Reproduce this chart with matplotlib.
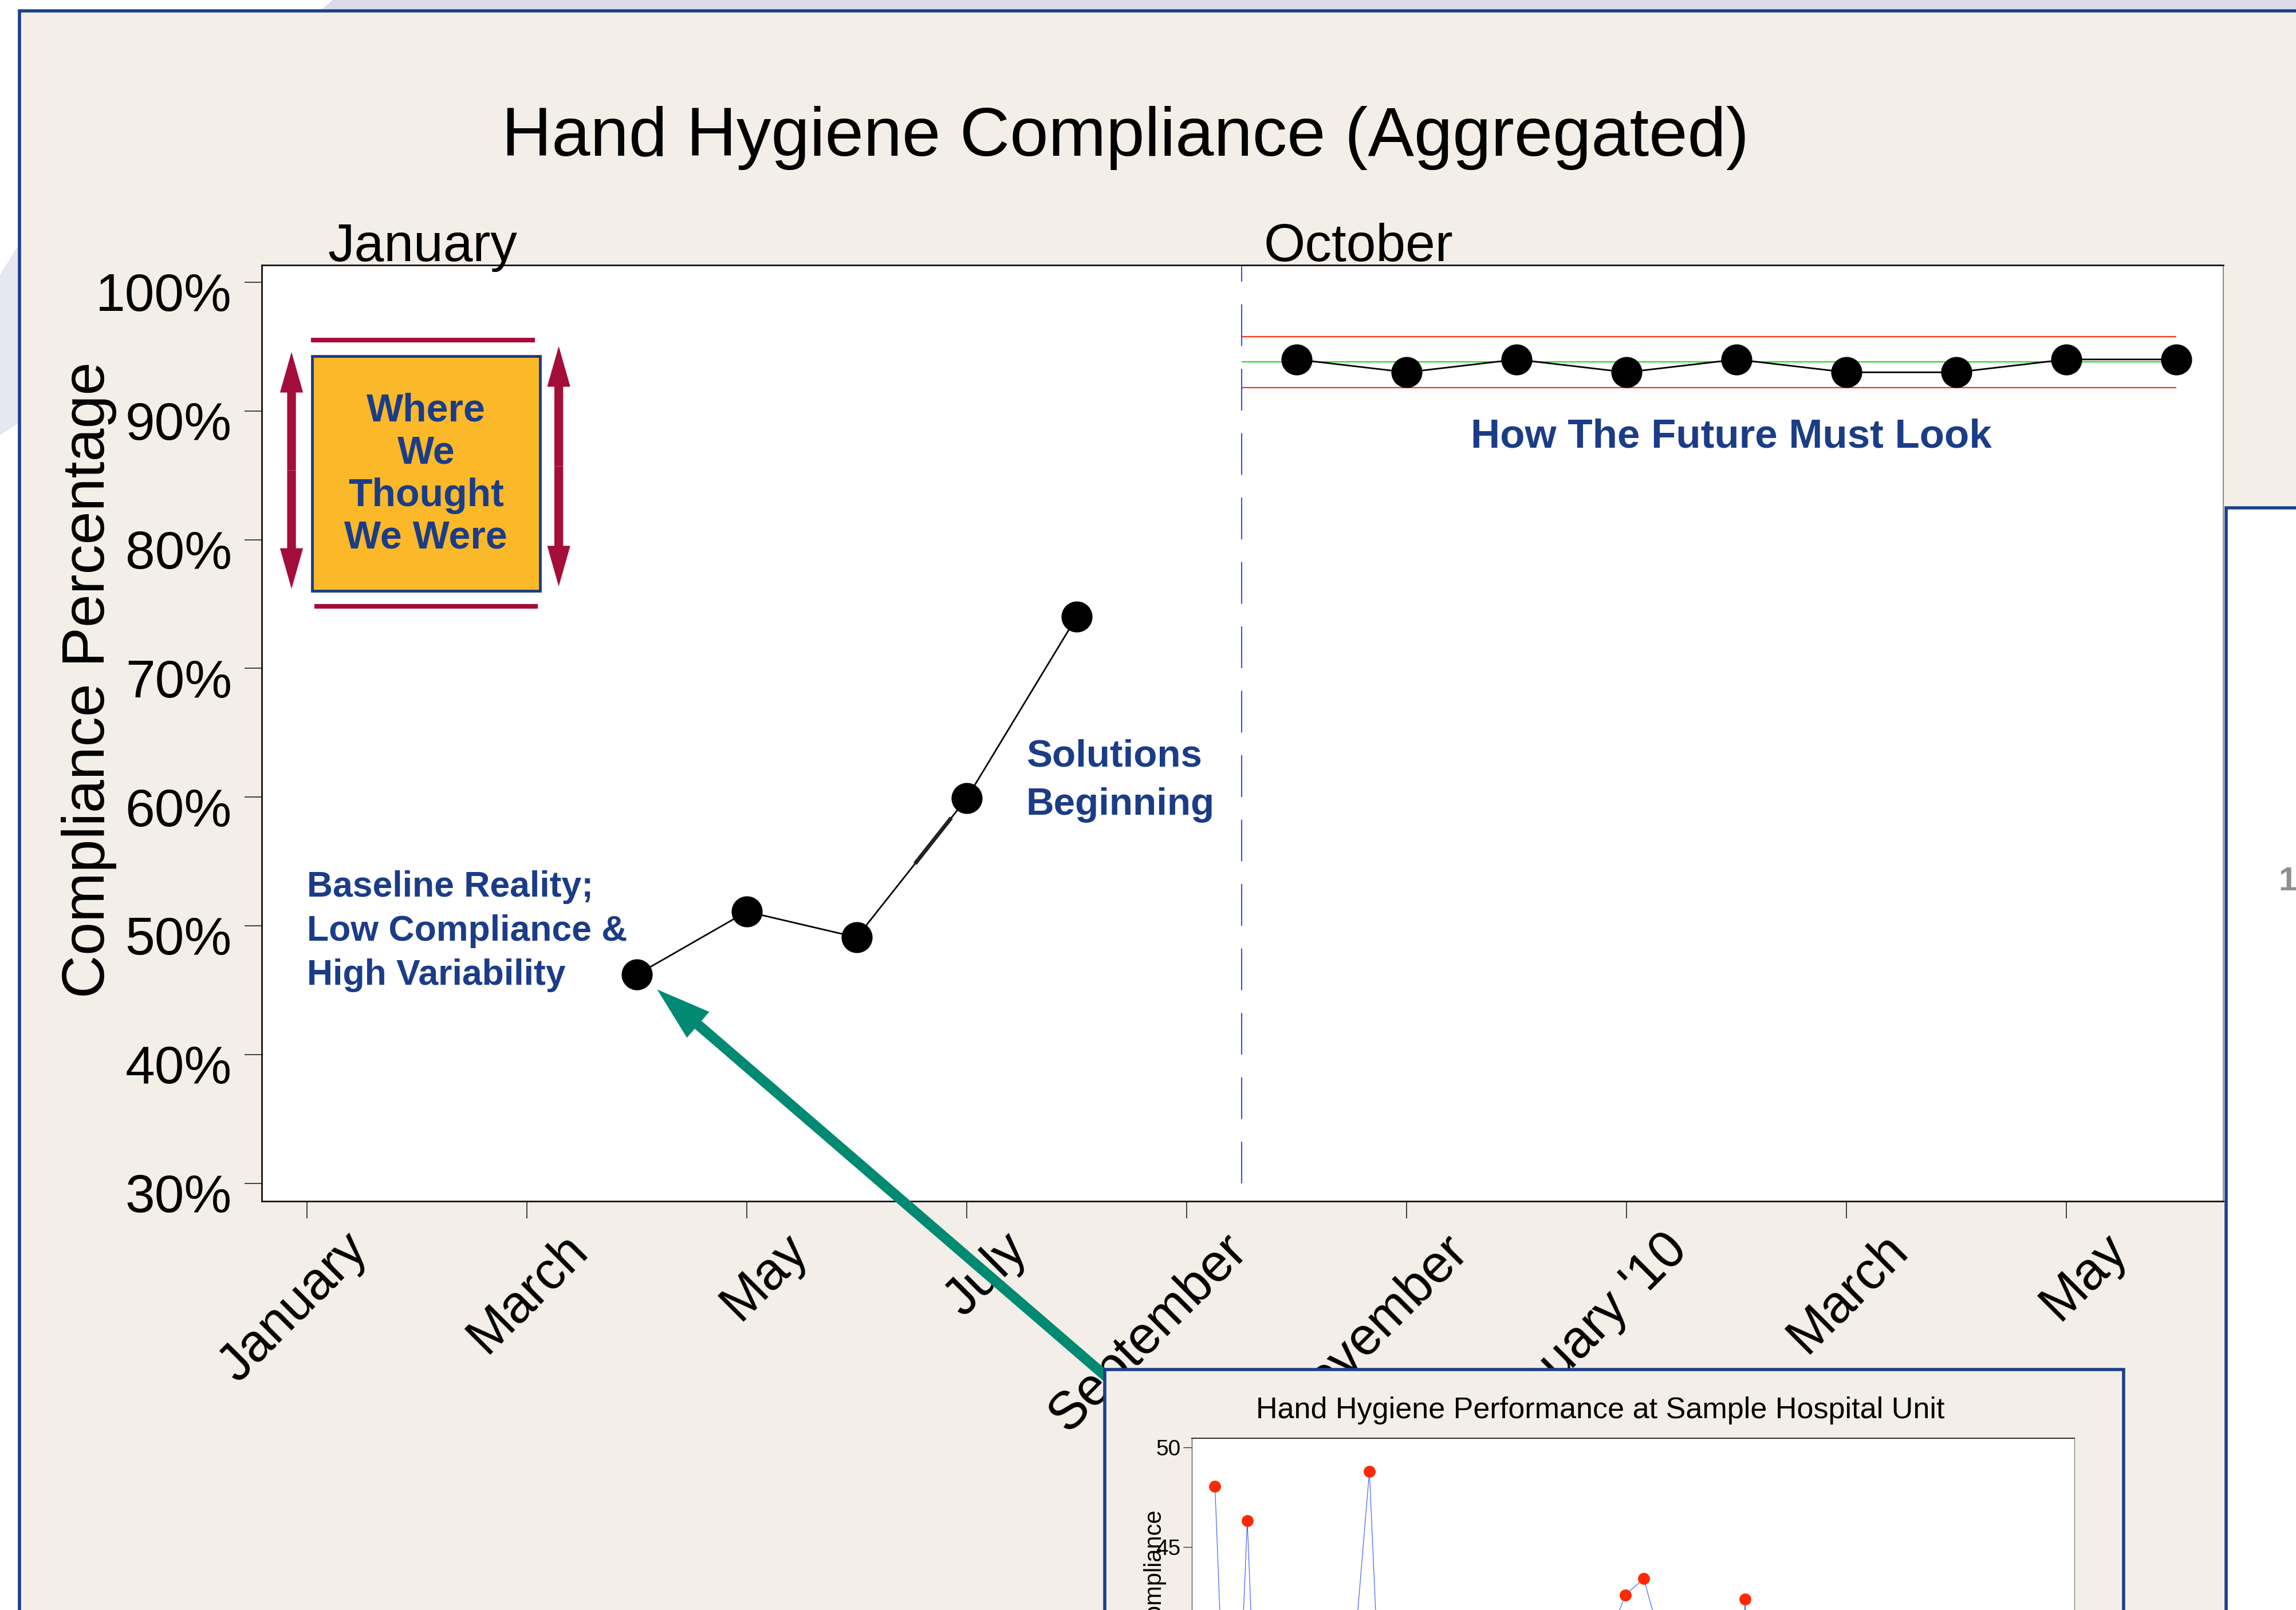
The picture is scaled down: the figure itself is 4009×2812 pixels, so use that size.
import matplotlib
matplotlib.use('Agg')
from matplotlib import pyplot as plt
from matplotlib.patches import Rectangle, Polygon, FancyArrowPatch
from matplotlib.transforms import ScaledTranslation
import numpy as np

# ---- values ----
tick_months = [0, 2, 4, 6, 8, 10, 12, 14, 16]
tick_labels = ['January', 'March', 'May', 'July', 'September',
               'November', "January '10", 'March', 'May']
pct_ticks = [30, 40, 50, 60, 70, 80, 90, 100]

baseline_months = [3, 4, 5, 6, 7]            # April - August
baseline_pct = [46.2, 51.1, 49.1, 59.9, 74.0]

future_months = [9, 10, 11, 12, 13, 14, 15, 16, 17]   # October - June '10
future_pct = [94.0, 93.0, 94.0, 93.0, 94.0, 93.0, 93.0, 94.0, 94.0]

ucl = 95.75
center_line = 93.8
lcl = 91.8
phase_split = 8.5
limits_end = 17.0

# inset chart, mostly cut off by the bottom of the slide
inset_x = [2.6, 4.45, 6.26, 8.0, 16.0, 20.1, 22.3, 35.8, 49.1, 51.2, 61.45, 62.7, 62.75]
inset_y = [48.03, 27, 46.33, 27, 27, 48.79, 27, 27, 42.61, 43.43, 27, 42.41, 27]
inset_ticks = [45, 50]

BEIGE = '#F3EFE8'
FRAME_BLUE = '#1B3F8B'
NAVY = '#1B3C87'
CRIMSON = '#A50D3A'
GOLD = '#FBB829'
TEAL = '#008A72'
LAVENDER = '#DADCEA'

W, H, DPI = 4009, 2812, 100

plt.rcParams['font.family'] = ['Liberation Sans', 'DejaVu Sans']


def fx(px):
    return px / W


def fy(py):
    return 1 - py / H


fig = plt.figure(figsize=(W / DPI, H / DPI), dpi=DPI, facecolor='white')


def fig_rect(x0, y0, x1, y1, **kw):
    r = Rectangle((fx(x0), fy(y1)), fx(x1) - fx(x0), fy(y0) - fy(y1),
                  transform=fig.transFigure, **kw)
    fig.add_artist(r)
    return r


# slide background
fig.add_artist(Polygon([(fx(561), fy(17)), (fx(581), fy(0)), (fx(W), fy(0)), (fx(W), fy(17))],
                       closed=True, transform=fig.transFigure, facecolor=LAVENDER,
                       edgecolor='none', zorder=-6))
fig.add_artist(Polygon([(fx(0), fy(480)), (fx(31), fy(430)), (fx(31), fy(740)), (fx(0), fy(760))],
                       closed=True, transform=fig.transFigure, facecolor='#E6E7F1',
                       edgecolor='none', zorder=-6))
fig_rect(33.5, 19, W + 60, H + 60, facecolor=BEIGE, edgecolor=FRAME_BLUE, linewidth=4, zorder=-5)

# ---- main chart ----
ax = fig.add_axes([fx(457), fy(2098), fx(3882) - fx(457), fy(463) - fy(2098)])
ax.set_facecolor('white')
ax.set_xlim(-0.411, 17.427)
ax.set_ylim(28.6, 101.33)

ax.hlines([ucl, lcl], phase_split, limits_end, colors='#FF3314', linewidth=1.6, zorder=2)
ax.hlines(center_line, phase_split, limits_end, colors='#22DD22', linewidth=1.6, zorder=2)
ax.vlines(phase_split, 30, 101.33, colors='#3050F0', linewidth=1.5,
          linestyles=[(0, (35, 19))], zorder=2)

for months, pct in [(baseline_months, baseline_pct), (future_months, future_pct)]:
    ax.plot(months, pct, color='black', linewidth=2, marker='o', markersize=38,
            markerfacecolor='black', markeredgecolor='black', zorder=3)

# darker stroke on part of the June-July segment
seg = np.array([0.53, 0.86])
ax.plot(np.interp(seg, [0, 1], baseline_months[2:4]), np.interp(seg, [0, 1], baseline_pct[2:4]),
        color='#222222', linewidth=5, solid_capstyle='butt', zorder=3)

ax.set_xticks(tick_months)
ax.set_xticklabels(tick_labels, fontsize=66, rotation=45, ha='right', va='top',
                   rotation_mode='anchor')
ax.set_yticks(pct_ticks)
ax.set_yticklabels([f'{v}%' for v in pct_ticks], fontsize=67)
ax.tick_params(axis='both', direction='out', length=21.5, width=1.2, color='#222222')
ax.tick_params(axis='y', pad=16)
ax.tick_params(axis='x', pad=8)
shift = ScaledTranslation(0.62, 0, fig.dpi_scale_trans)
for lab in ax.get_xticklabels():
    lab.set_transform(lab.get_transform() + shift)
drop = ScaledTranslation(0, -0.17, fig.dpi_scale_trans)
for lab in ax.get_yticklabels():
    lab.set_transform(lab.get_transform() + drop)

for side in ['top', 'bottom', 'left']:
    ax.spines[side].set_linewidth(2)
    ax.spines[side].set_color('#111111')
ax.spines['right'].set_linewidth(1.2)
ax.spines['right'].set_color('#777777')

fig.text(fx(155), fy(1187), 'Compliance Percentage', rotation=90, ha='center', va='center',
         fontsize=75)
fig.text(fx(1965), fy(272), 'Hand Hygiene Compliance (Aggregated)', ha='center',
         va='baseline', fontsize=87)
ax.text(0.193, 101.64, 'January', fontsize=67, ha='left', va='baseline', clip_on=False)
ax.text(8.703, 101.64, 'October', fontsize=67, ha='left', va='baseline', clip_on=False)

# "where we thought we were" box
ax.add_patch(Rectangle((0.047, 76.0), 2.073, 18.27, facecolor=GOLD, edgecolor=NAVY,
                       linewidth=3.5, zorder=4))
for i, line in enumerate(['Where', 'We', 'Thought', 'We Were']):
    ax.text(1.083, 89.2 - i * 3.29, line, ha='center', va='baseline', fontsize=49,
            fontweight='bold', color=NAVY, zorder=5)
ax.plot([0.036, 2.073], [95.52, 95.52], color=CRIMSON, linewidth=5.8,
        solid_capstyle='butt', zorder=4)
ax.plot([0.068, 2.10], [74.8, 74.8], color=CRIMSON, linewidth=5.8,
        solid_capstyle='butt', zorder=4)


def double_arrow(x, y0, y1):
    mid = (y0 + y1) / 2
    for end in (y0, y1):
        ax.add_patch(FancyArrowPatch((x, mid), (x, end),
                                     arrowstyle='simple,head_length=51,head_width=29,tail_width=11',
                                     mutation_scale=1, shrinkA=0, shrinkB=0,
                                     facecolor=CRIMSON, edgecolor='none', zorder=4))


double_arrow(-0.14, 76.18, 94.58)
double_arrow(2.29, 76.37, 95.03)

for i, line in enumerate(['Baseline Reality;', 'Low Compliance &', 'High Variability']):
    ax.text(0.003, 52.25 - i * 3.42, line, ha='left', va='baseline', fontsize=45,
            fontweight='bold', color=NAVY, zorder=5)
for i, line in enumerate(['Solutions', 'Beginning']):
    ax.text(6.54, 62.39 - i * 3.78, line, ha='left', va='baseline', fontsize=48.5,
            fontweight='bold', color=NAVY, zorder=5)
ax.text(12.95, 87.15, 'How The Future Must Look', ha='center', va='baseline', fontsize=51,
        fontweight='bold', color=NAVY, zorder=5)

ax.add_patch(FancyArrowPatch((7.36, 14.3), (3.185, 45.05),
                             arrowstyle='simple,head_length=68,head_width=43,tail_width=13',
                             mutation_scale=1, shrinkA=0, shrinkB=0, facecolor=TEAL,
                             edgecolor='none', zorder=6, clip_on=False))

# ---- right-hand panel (cut off) ----
fig_rect(3887, 887, W + 60, H + 60, facecolor='white', edgecolor=FRAME_BLUE, linewidth=4, zorder=1)
fig.text(fx(3978), fy(1540), '1', fontsize=42, color='#444444', alpha=0.6, fontweight='bold',
         va='center', zorder=2)

# ---- inset chart (cut off) ----
fig_rect(1928.5, 2391.5, 3707.5, H + 60, facecolor=BEIGE, edgecolor=FRAME_BLUE, linewidth=4, zorder=5)
axi = fig.add_axes([fx(2081.4), 0, fx(3622) - fx(2081.4), fy(2512.3)], zorder=6)
axi.set_facecolor('white')
axi.set_xlim(0, 100)
axi.set_ylim(41.86, 50.44)
axi.plot(inset_x, inset_y, color='#3355FF', linewidth=0.8, zorder=2)
axi.plot(inset_x, inset_y, linestyle='none', marker='o', markersize=14, color='#FF2A00', zorder=3)
axi.set_xticks([])
axi.set_yticks(inset_ticks)
axi.set_yticklabels([str(v) for v in inset_ticks])
axi.tick_params(axis='y', length=10.8, width=1, pad=3.6, labelsize=28, color='#333333')
axi.spines['bottom'].set_visible(False)
axi.spines['top'].set_linewidth(1.5)
axi.spines['top'].set_color('#333333')
axi.spines['left'].set_linewidth(1)
axi.spines['left'].set_color('#555555')
axi.spines['right'].set_linewidth(1)
axi.spines['right'].set_color('#888888')

fig.text(fx(2794.5), fy(2476.7), 'Hand Hygiene Performance at Sample Hospital Unit',
         ha='center', va='baseline', fontsize=37.5, zorder=7)
fig.text(fx(2015), fy(2635), 'Compliance', rotation=90, ha='center', va='top', fontsize=30,
         zorder=7)

fig.savefig('out.png', dpi=DPI, facecolor='white')
